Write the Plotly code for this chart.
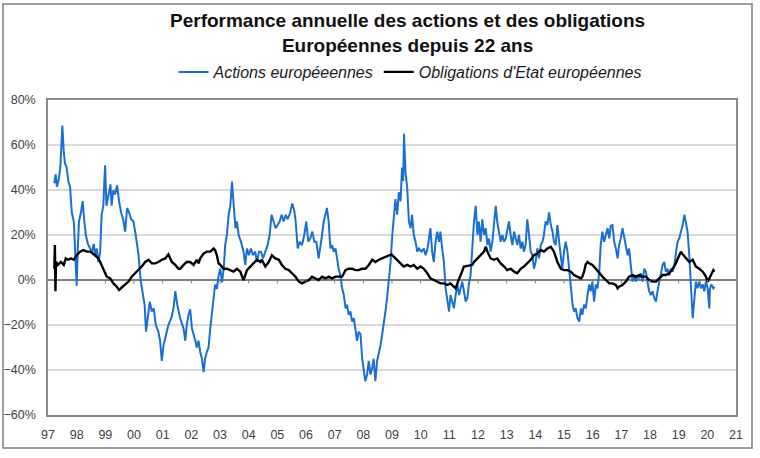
import plotly.graph_objects as go

# ---------------- data ----------------
title_lines = ["Performance annuelle des actions et des obligations", "Européennes depuis 22 ans"]
series_names = ["Actions européeennes", "Obligations d'Etat européennes"]

years = list(range(1997, 2022))
year_labels = [f"{y % 100:02d}" for y in years]

actions_x = [
    1997.22, 1997.27, 1997.31, 1997.38, 1997.43, 1997.50, 1997.55, 1997.59, 1997.65, 1997.71,
    1997.77, 1997.83, 1997.90, 1997.94, 1998.00, 1998.04, 1998.08, 1998.15, 1998.21, 1998.26,
    1998.32, 1998.39, 1998.47, 1998.53, 1998.60, 1998.64, 1998.70, 1998.76, 1998.82, 1998.87,
    1998.93, 1998.99, 1999.04, 1999.11, 1999.18, 1999.22, 1999.28, 1999.34, 1999.41, 1999.48,
    1999.55, 1999.62, 1999.69, 1999.76, 1999.83, 1999.90, 1999.98, 2000.06, 2000.16, 2000.23,
    2000.30, 2000.37, 2000.42, 2000.48, 2000.55, 2000.62, 2000.69, 2000.76, 2000.85, 2000.91,
    2000.97, 2001.03, 2001.11, 2001.20, 2001.30, 2001.38, 2001.44, 2001.51, 2001.61, 2001.73,
    2001.79, 2001.84, 2001.90, 2001.96, 2002.02, 2002.08, 2002.14, 2002.19, 2002.25, 2002.31,
    2002.37, 2002.43, 2002.48, 2002.54, 2002.60, 2002.66, 2002.72, 2002.78, 2002.83, 2002.89,
    2002.95, 2003.01, 2003.07, 2003.13, 2003.18, 2003.24, 2003.30, 2003.36, 2003.42, 2003.45,
    2003.50, 2003.54, 2003.59, 2003.65, 2003.73, 2003.82, 2003.88, 2003.94, 2004.01, 2004.08,
    2004.15, 2004.23, 2004.29, 2004.36, 2004.43, 2004.50, 2004.58, 2004.66, 2004.73, 2004.80,
    2004.87, 2004.94, 2005.01, 2005.08, 2005.15, 2005.22, 2005.29, 2005.36, 2005.45, 2005.52,
    2005.59, 2005.64, 2005.71, 2005.78, 2005.86, 2005.94, 2006.01, 2006.08, 2006.15, 2006.22,
    2006.29, 2006.36, 2006.44, 2006.50, 2006.56, 2006.62, 2006.68, 2006.73, 2006.79, 2006.85,
    2006.91, 2006.97, 2007.03, 2007.08, 2007.14, 2007.20, 2007.26, 2007.32, 2007.38, 2007.43,
    2007.49, 2007.55, 2007.61, 2007.67, 2007.72, 2007.78, 2007.84, 2007.90, 2007.96, 2008.02,
    2008.07, 2008.13, 2008.19, 2008.25, 2008.31, 2008.36, 2008.42, 2008.48, 2008.54, 2008.60,
    2008.66, 2008.71, 2008.77, 2008.83, 2008.89, 2008.95, 2009.01, 2009.06, 2009.12, 2009.18,
    2009.24, 2009.30, 2009.35, 2009.39, 2009.42, 2009.47, 2009.53, 2009.59, 2009.65, 2009.70,
    2009.76, 2009.82, 2009.88, 2009.94, 2010.03, 2010.11, 2010.17, 2010.24, 2010.29, 2010.34,
    2010.40, 2010.46, 2010.52, 2010.58, 2010.64, 2010.69, 2010.75, 2010.81, 2010.87, 2010.93,
    2010.99, 2011.04, 2011.10, 2011.16, 2011.22, 2011.28, 2011.34, 2011.39, 2011.45, 2011.51,
    2011.57, 2011.63, 2011.68, 2011.74, 2011.80, 2011.86, 2011.92, 2011.98, 2012.03, 2012.09,
    2012.15, 2012.21, 2012.27, 2012.33, 2012.38, 2012.44, 2012.50, 2012.56, 2012.62, 2012.67,
    2012.73, 2012.79, 2012.85, 2012.91, 2012.97, 2013.02, 2013.08, 2013.14, 2013.20, 2013.26,
    2013.31, 2013.37, 2013.43, 2013.49, 2013.55, 2013.60, 2013.66, 2013.72, 2013.78, 2013.84,
    2013.90, 2013.95, 2014.01, 2014.07, 2014.13, 2014.19, 2014.25, 2014.30, 2014.36, 2014.42,
    2014.48, 2014.54, 2014.60, 2014.65, 2014.71, 2014.77, 2014.83, 2014.89, 2014.94, 2015.00,
    2015.06, 2015.12, 2015.18, 2015.24, 2015.30, 2015.35, 2015.41, 2015.47, 2015.53, 2015.59,
    2015.64, 2015.70, 2015.76, 2015.82, 2015.88, 2015.93, 2015.99, 2016.05, 2016.11, 2016.17,
    2016.23, 2016.28, 2016.34, 2016.40, 2016.46, 2016.52, 2016.58, 2016.63, 2016.69, 2016.75,
    2016.81, 2016.87, 2016.92, 2016.98, 2017.04, 2017.10, 2017.16, 2017.22, 2017.27, 2017.33,
    2017.39, 2017.45, 2017.51, 2017.57, 2017.62, 2017.68, 2017.74, 2017.80, 2017.86, 2017.91,
    2017.97, 2018.03, 2018.09, 2018.15, 2018.21, 2018.26, 2018.32, 2018.38, 2018.44, 2018.50,
    2018.55, 2018.61, 2018.67, 2018.73, 2018.79, 2018.85, 2018.90, 2018.96, 2019.02, 2019.08,
    2019.14, 2019.20, 2019.25, 2019.31, 2019.37, 2019.43, 2019.49, 2019.55, 2019.60, 2019.66,
    2019.72, 2019.78, 2019.84, 2019.89, 2019.95, 2020.01, 2020.07, 2020.09, 2020.14, 2020.21,
    2020.25,
]
actions_y = [
    43, 47, 41.5, 45, 50, 68.6, 57, 52, 50, 44,
    41.5, 30, 26, 14, -2.5, 14, 26, 30, 35, 27,
    20, 16, 14, 12.5, 16, 11, 14, 8, 12.5, 29,
    33, 51, 33, 38, 42.5, 33, 40, 38, 42, 35,
    30, 27, 21.5, 32, 30, 27, 26, 20, 11, 0,
    -5, -11, -23, -15.5, -9.6, -14, -12.6, -20, -23, -27,
    -36, -29, -24.4, -20, -17, -12.6, -5, -11, -17, -21.5,
    -27, -20, -15.5, -13, -21.5, -24, -27, -30, -27, -32,
    -35, -41, -35, -32, -30, -21.5, -14, -6.7, -2, -4,
    2, 5, -1, 5, 15.5, 20, 29, 33, 43.7, 38,
    27, 23, 26, 20, 17, 12.6, 6.7, 14, 11, 14,
    11, 12.6, 8, 12.6, 12.6, 9.6, 12.6, 15.5, 20, 29,
    26, 23, 24.4, 26, 29, 26, 29, 27, 30, 34,
    31, 26, 14, 17, 15.5, 20, 26, 17, 18.5, 21.5,
    17, 17, 9.6, 14, 20, 26, 30, 32, 26, 14,
    15.5, 12.6, 14, 9.6, 5, 2, -3.7, -6.7, -12.6, -11,
    -15.5, -14, -18.5, -17, -21.5, -27, -23, -24, -35, -41,
    -45, -42, -36, -42, -39, -35, -45, -36, -33, -29,
    -24, -20, -14, -8, -1, 8, 20, 26, 36, 29,
    39, 35, 50, 44, 65, 48, 41, 26, 23, 29,
    20, 17, 12.6, 14, 12.6, 14, 11, 14, 20, 23,
    12.6, 8, 17, 21.5, 17, 21.5, 14, 8, -3.7, -8,
    -14, -6.7, -9.6, -12.6, -6.7, -2, -6.7, -3.7, -0.7, -5,
    -9.6, -8, -2, 2, 15.5, 26, 33, 20, 26, 17,
    27, 20, 23, 15.5, 18.5, 12.6, 17, 24.4, 33, 26,
    21.5, 17, 20, 17, 18.5, 21.5, 26, 20, 15.5, 21.5,
    18.5, 15.5, 20, 14, 17, 12.6, 15.5, 27, 20, 12.6,
    11, 5, 8, 14, 9.6, 15.5, 17, 20, 26, 24.4,
    30, 24.4, 21.5, 17, 15.5, 24.4, 17, 9.6, 5, 12.6,
    17, 12.6, 3.7, -5, -11, -14, -12.6, -17, -18.5, -12.6,
    -15.5, -11, -12.6, -6.7, -2, -5, -0.7, -9.6, -2, -3.7,
    3.7, 15.5, 21.5, 17, 20, 23, 18.5, 24, 24.4, 17,
    14, 9.6, 15.5, 18.5, 23, 18.5, 15.5, 11, 14, 5,
    -0.7, 2, -0.7, 2, 0.7, 3, -0.7, 5, 3.7, -0.7,
    -5, -6.7, -5, -8, -9.6, -5, -0.7, 3.7, 6.7, 8,
    3.7, 5, 2, 5, 3.7, 6.7, 12.6, 17, 18.5, 21.5,
    24.4, 29, 26, 21.5, 11, -3.7, -17, -8, -0.7, -3.7,
    -0.7, -3.7, -2, -5, -0.7, -3.7, -12.6, -3.7, -2, -3.7,
    -3,
]

bonds_x = [
    1997.22, 1997.24, 1997.26, 1997.28, 1997.35, 1997.45, 1997.55, 1997.62, 1997.70, 1997.80,
    1997.90, 1998.00, 1998.12, 1998.23, 1998.35, 1998.47, 1998.64, 1998.76, 1998.82, 1998.93,
    1999.05, 1999.17, 1999.28, 1999.40, 1999.48, 1999.60, 1999.71, 1999.81, 1999.92, 2000.04,
    2000.16, 2000.27, 2000.39, 2000.51, 2000.62, 2000.74, 2000.85, 2000.97, 2001.09, 2001.20,
    2001.32, 2001.44, 2001.55, 2001.61, 2001.73, 2001.84, 2001.96, 2002.08, 2002.19, 2002.25,
    2002.31, 2002.43, 2002.54, 2002.66, 2002.78, 2002.83, 2002.89, 2002.95, 2003.01, 2003.13,
    2003.24, 2003.36, 2003.47, 2003.59, 2003.71, 2003.77, 2003.82, 2003.88, 2003.94, 2004.06,
    2004.17, 2004.29, 2004.41, 2004.46, 2004.58, 2004.70, 2004.81, 2004.93, 2005.05, 2005.16,
    2005.28, 2005.40, 2005.51, 2005.63, 2005.75, 2005.86, 2005.98, 2006.10, 2006.21, 2006.33,
    2006.44, 2006.56, 2006.68, 2006.79, 2006.91, 2007.03, 2007.14, 2007.26, 2007.38, 2007.49,
    2007.61, 2007.72, 2007.84, 2007.96, 2008.07, 2008.19, 2008.31, 2008.42, 2008.54, 2008.66,
    2008.77, 2008.89, 2008.98, 2009.06, 2009.18, 2009.30, 2009.41, 2009.53, 2009.65, 2009.76,
    2009.88, 2010.00, 2010.11, 2010.23, 2010.34, 2010.46, 2010.58, 2010.69, 2010.81, 2010.93,
    2011.04, 2011.16, 2011.22, 2011.28, 2011.34, 2011.39, 2011.45, 2011.51, 2011.68, 2011.80,
    2011.86, 2011.98, 2012.09, 2012.21, 2012.27, 2012.33, 2012.44, 2012.56, 2012.67, 2012.79,
    2012.91, 2013.02, 2013.14, 2013.26, 2013.37, 2013.49, 2013.60, 2013.72, 2013.84, 2013.95,
    2014.07, 2014.19, 2014.30, 2014.42, 2014.54, 2014.65, 2014.77, 2014.89, 2015.00, 2015.12,
    2015.24, 2015.35, 2015.47, 2015.59, 2015.64, 2015.70, 2015.76, 2015.82, 2015.88, 2015.99,
    2016.11, 2016.23, 2016.34, 2016.46, 2016.58, 2016.69, 2016.81, 2016.87, 2016.92, 2017.04,
    2017.16, 2017.27, 2017.39, 2017.51, 2017.62, 2017.74, 2017.86, 2017.97, 2018.09, 2018.21,
    2018.32, 2018.44, 2018.55, 2018.67, 2018.79, 2018.90, 2019.02, 2019.08, 2019.14, 2019.25,
    2019.37, 2019.49, 2019.60, 2019.72, 2019.84, 2019.95, 2020.01, 2020.07, 2020.13, 2020.21,
    2020.25,
]
bonds_y = [
    5, 15.5, -5, 8, 6.7, 8, 6.7, 9.6, 9, 9.6,
    9, 11, 12.6, 13.3, 12.6, 12.6, 11, 9.6, 8, 5,
    1.5, 0.7, -1.5, -3, -4.4, -3, -2, -0.7, 1.5, 2.9,
    4.4, 6, 8, 9, 7.4, 7.4, 8, 9, 9.6, 11.4,
    8, 6.7, 5, 5, 6.7, 8, 8, 6.7, 9, 7.4,
    9.6, 11.8, 12.6, 12.6, 14, 13.3, 11, 7.4, 6.7, 5,
    5, 4.4, 3.7, 5, 3.7, 1.5, 0, 2.2, 4.4, 6,
    7.4, 9, 8, 9, 6, 8, 11, 9.6, 9, 6.7,
    5, 4.4, 3, 1.5, -0.7, -1.5, -0.7, 0, 1.5, 0.7,
    0, 1.5, 0.7, 1.5, 0.7, 1.5, 1.5, 1.5, 4.4, 5,
    5, 4.4, 4.4, 5, 5, 6.7, 9, 8, 9, 9.6,
    10.4, 11, 11.4, 10.4, 9, 7.4, 6, 6.7, 6, 6.7,
    5, 6, 5, 3, 0.7, 0, -0.7, -1.5, -1.5, -2.2,
    -1.5, -3, -3.7, -1.5, 0.7, 2.2, 4.4, 6, 6.4, 6.7,
    8, 9.6, 11, 12.6, 14.8, 12.6, 9.6, 9, 9.6, 7.4,
    6, 4.4, 5, 3.7, 3, 5, 6, 7.4, 9, 11,
    11.8, 13.3, 12.6, 14, 14.8, 12.6, 8, 5, 4.4, 4.4,
    3.7, 2.2, 1.5, 0.7, 1.5, 3.7, 7, 8, 7.4, 6.7,
    5, 3, 1.5, 0, -1.5, -1.5, -2.2, -3.7, -3, -2.2,
    -0.7, 1.5, 2.2, 1.5, 2.2, 1.5, 1.5, 0, -0.7, -0.7,
    0.7, 2.2, 2.2, 3, 5, 7.4, 11, 12.6, 11.4, 9.6,
    8, 9, 6, 5, 3.7, 1.5, -0.7, 0.7, 2.2, 4.4,
    3.7,
]

y_range = [-60, 80]
y_step = 20

# ---------------- figure ----------------
W, H = 760, 458
ML, MR, MT, MB = 48, 24, 100, 43
pw, ph = W - ML - MR, H - MT - MB

def px_x(p):
    return (p - ML) / pw

def px_y(p):
    return (H - MB - p) / ph

fig = go.Figure()
fig.add_trace(go.Scatter(
    x=actions_x, y=actions_y, name=series_names[0], mode="lines",
    line=dict(color="#1a6fd0", width=2),
))
fig.add_trace(go.Scatter(
    x=bonds_x, y=bonds_y, name=series_names[1], mode="lines",
    line=dict(color="#000000", width=2.4),
))

label_font = dict(family="Liberation Sans, Arial, sans-serif", size=12.5, color="#404040")

fig.update_layout(
    width=W, height=H,
    margin=dict(l=ML, r=MR, t=MT, b=MB, autoexpand=False),
    paper_bgcolor="white", plot_bgcolor="white",
    showlegend=True,
    legend=dict(
        orientation="h", x=px_x(410), xanchor="center", y=px_y(72), yanchor="middle",
        font=dict(family="Liberation Sans, Arial, sans-serif", size=16, color="#1a1a1a", style="italic"),
        bgcolor="rgba(0,0,0,0)", itemwidth=30, tracegroupgap=0,
    ),
    xaxis=dict(
        range=[years[0], years[-1]], tickmode="array", tickvals=years, ticktext=year_labels,
        showgrid=False, zeroline=False, showline=True, mirror=True,
        linecolor="#8a8a8a", linewidth=1.5,
        ticks="outside", ticklen=7, tickcolor="rgba(0,0,0,0)",
        tickfont=label_font, automargin=False,
    ),
    yaxis=dict(
        range=y_range, dtick=y_step, tick0=0, ticksuffix="%",
        showgrid=True, gridcolor="#d9d9d9", gridwidth=1.5,
        zeroline=True, zerolinecolor="#7f7f7f", zerolinewidth=1.5,
        showline=True, mirror=True, linecolor="#8a8a8a", linewidth=1.5,
        ticks="outside", ticklen=8, tickcolor="rgba(0,0,0,0)",
        tickfont=label_font, automargin=False,
    ),
)

# title (two lines)
fig.add_annotation(
    text="<b>" + title_lines[0] + "<br>" + title_lines[1] + "</b>",
    xref="paper", yref="paper", x=px_x(407), y=px_y(33), xanchor="center", yanchor="middle",
    showarrow=False, align="center",
    font=dict(family="Liberation Sans, Arial, sans-serif", size=19, color="#111111"),
)

# small tick marks hanging from the zero line
for yr in years[1:-1]:
    fig.add_shape(type="line", xref="x", yref="y", x0=yr, x1=yr, y0=0, y1=-1.6,
                  line=dict(color="#7f7f7f", width=1))

# outer chart frame
fig.add_shape(type="rect", xref="paper", yref="paper",
              x0=px_x(3), x1=px_x(752), y0=px_y(448), y1=px_y(4),
              line=dict(color="#7f7f7f", width=1.5), layer="below")

fig.write_html("out.html", config={"displayModeBar": False},
               post_script="document.body.style.margin='0';")
